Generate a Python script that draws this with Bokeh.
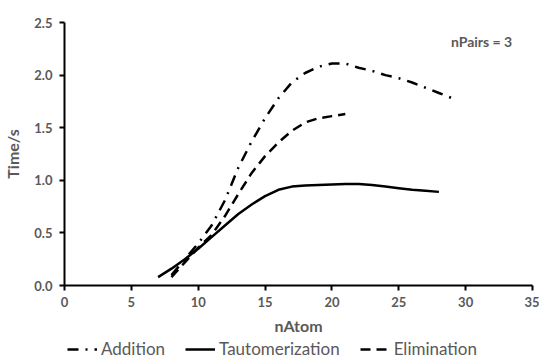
from bokeh.plotting import figure
from bokeh.layouts import column
from bokeh.models import Range1d, FixedTicker, PrintfTickFormatter, Legend, LegendItem, Label
from bokeh.embed import file_html
from bokeh.resources import INLINE

# nAtom values and times (s)
add_x = [8, 9, 10, 11, 12, 13, 14, 15, 16, 17, 18, 19, 20, 21, 22, 23, 24, 25, 26, 27, 28, 29]
add_y = [0.10, 0.25, 0.40, 0.57, 0.81, 1.12, 1.37, 1.59, 1.78, 1.93, 2.02, 2.08, 2.11, 2.11, 2.07, 2.04, 2.00, 1.97, 1.93, 1.88, 1.83, 1.78]

tau_x = [7, 8, 9, 10, 11, 12, 13, 14, 15, 16, 17, 18, 19, 20, 21, 22, 23, 24, 25, 26, 27, 28]
tau_y = [0.08, 0.16, 0.25, 0.35, 0.46, 0.57, 0.68, 0.77, 0.85, 0.91, 0.94, 0.95, 0.955, 0.96, 0.965, 0.965, 0.955, 0.94, 0.925, 0.91, 0.90, 0.89]

eli_x = [8, 9, 10, 11, 12, 13, 14, 15, 16, 17, 18, 19, 20, 21]
eli_y = [0.08, 0.22, 0.36, 0.48, 0.66, 0.87, 1.07, 1.23, 1.36, 1.47, 1.55, 1.59, 1.61, 1.63]

series_names = ["Addition", "Tautomerization", "Elimination"]
x_ticks = [0, 5, 10, 15, 20, 25, 30, 35]
y_ticks = [0.0, 0.5, 1.0, 1.5, 2.0, 2.5]

GRAY = "#595959"
FONT = "Lato"
STYLES = [dict(line_color="black", line_width=2.5, line_dash="11 7 2 7"),
          dict(line_color="black", line_width=2.5),
          dict(line_color="black", line_width=2.5, line_dash="10 6")]
SERIES = [(add_x, add_y), (tau_x, tau_y), (eli_x, eli_y)]

# ---- main chart ----
p = figure(frame_width=468, frame_height=263, output_backend="svg", toolbar_location=None,
           x_range=Range1d(0, 35), y_range=Range1d(0, 2.5),
           min_border_left=64, min_border_right=7, min_border_top=22, min_border_bottom=52)
p.outline_line_color = None
p.grid.visible = False
p.background_fill_color = "white"
p.border_fill_color = "white"

for (xs, ys), st in zip(SERIES, STYLES):
    p.line(xs, ys, **st)

for ax in (p.xaxis[0], p.yaxis[0]):
    ax.axis_line_color = "black"
    ax.axis_line_width = 2
    ax.major_tick_line_color = "black"
    ax.major_tick_line_width = 2
    ax.minor_tick_line_color = None
    ax.major_tick_in = 0
    ax.major_tick_out = 5
    ax.major_label_text_font = FONT
    ax.major_label_text_font_style = "bold"
    ax.major_label_text_font_size = "13px"
    ax.major_label_text_color = GRAY
    ax.axis_label_text_font = FONT
    ax.axis_label_text_font_style = "bold"
    ax.axis_label_text_font_size = "16px"
    ax.axis_label_text_color = GRAY

p.xaxis.ticker = FixedTicker(ticks=x_ticks)
p.yaxis.ticker = FixedTicker(ticks=y_ticks)
p.yaxis.formatter = PrintfTickFormatter(format="%.1f")
p.xaxis.axis_label = "nAtom"
p.yaxis.axis_label = "Time/s"
p.xaxis.major_label_standoff = 6
p.yaxis.major_label_standoff = 7
p.xaxis.axis_label_standoff = 6
p.yaxis.axis_label_standoff = 9

p.add_layout(Label(x=28.9, y=2.32, text="nPairs = 3", text_font=FONT, text_font_style="bold",
                   text_font_size="14px", text_color=GRAY, text_baseline="middle"))

# ---- legend strip below the chart (its frame is aligned with the chart's frame) ----
lg = figure(width=539, height=21, output_backend="svg", toolbar_location=None,
            x_range=Range1d(0, 1), y_range=Range1d(0, 1),
            x_axis_location=None, y_axis_location=None,
            min_border_left=0, min_border_right=0, min_border_top=0, min_border_bottom=0)
lg.outline_line_color = None
lg.grid.visible = False
lg.border_fill_color = "white"
lg.background_fill_color = "white"

items = []
for name, (xs, ys), st in zip(series_names, SERIES, STYLES):
    r = lg.line(xs, ys, **st)  # lies outside this strip's ranges; only its legend entry shows
    items.append(LegendItem(label=name, renderers=[r]))

legend = Legend(items=items, orientation="horizontal", location=(3, -1))
legend.border_line_color = None
legend.background_fill_alpha = 0
legend.label_text_font = FONT
legend.label_text_font_size = "17px"
legend.label_text_color = GRAY
legend.glyph_width = 30
legend.glyph_height = 14
legend.label_height = 14
legend.label_standoff = 4
legend.spacing = 20
legend.padding = 0
legend.margin = 0
lg.add_layout(legend, "center")

layout = column(p, lg, spacing=0)
open("out.html", "w").write(file_html(layout, INLINE))
